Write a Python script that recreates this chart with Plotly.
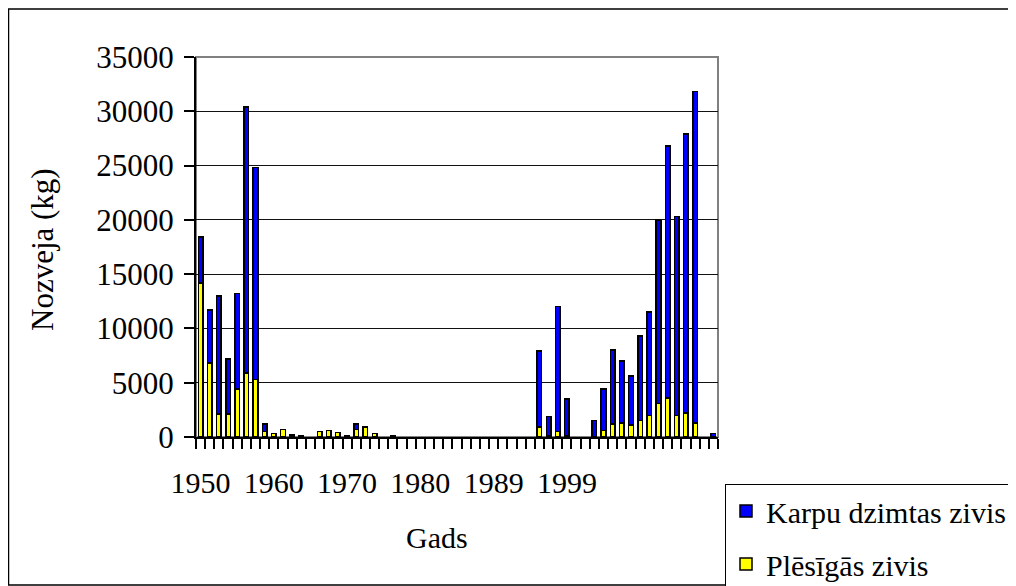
import plotly.graph_objects as go

# category slots along x (57 bars, only some years labelled)
n_cats = 57
label_pos = [0, 8, 16, 24, 32, 40]
label_txt = ["1950", "1960", "1970", "1980", "1989", "1999"]

# Plēsīgās zivis (bottom, yellow) and Karpu dzimtas zivis (top, blue), kg
plesigas = [14200, 6800, 2100, 2100, 4400, 5900, 5300, 500, 300, 700,
            200, 100, None, 500, 600, 400, 100, 700, 900, 300,
            None, 100, None, None, None, None, None, None, None, None,
            None, None, None, None, None, None, None, 900, 100, 500,
            100, None, None, None, 600, 1200, 1300, 1100, 1500, 2000,
            3100, 3600, 2000, 2200, 1300, None, None]
karpu = [4200, 4900, 10900, 5100, 8800, 24500, 19500, 700, None, None,
         None, None, None, None, None, None, None, 500, None, None,
         None, None, None, None, None, None, None, None, None, None,
         None, None, None, None, None, None, None, 7000, 1800, 11500,
         3400, None, None, 1500, 3800, 6800, 5700, 4500, 7800, 9500,
         16900, 23200, 18300, 25700, 30500, None, 300]

OFF = 8  # page body margin
W, H = 1016 - OFF, 586 - OFF
L, R, T, B = 196 - OFF, 718 - OFF, 57 - OFF, 437 - OFF

def px_x(p):
    return (p - OFF - L) / (R - L)

def px_y(p):
    return (B - (p - OFF)) / (B - T)

FONT = "Liberation Serif, Times New Roman, serif"
x = list(range(n_cats))

fig = go.Figure()
fig.add_trace(go.Bar(x=x, y=plesigas, name="Plēsīgās zivis", legendgroup="p", legendrank=2,
                     marker=dict(color="#ffff00", line=dict(color="black", width=1.5))))
fig.add_trace(go.Bar(x=x, y=karpu, name="Karpu dzimtas zivis", legendgroup="k", legendrank=1,
                     marker=dict(color="#0000ff", line=dict(color="black", width=1.5))))

fig.update_layout(
    barmode="stack", bargap=0.5,
    width=W, height=H,
    margin=dict(l=L, r=W - R, t=T, b=H - B, autoexpand=False),
    plot_bgcolor="white", paper_bgcolor="white",
    font=dict(family=FONT, size=30, color="black"),
    legend=dict(x=px_x(725), y=px_y(484), xanchor="left", yanchor="top",
                bordercolor="black", borderwidth=1, bgcolor="white",
                traceorder="grouped", tracegroupgap=11,
                font=dict(size=30)),
    shapes=[
        dict(type="rect", xref="paper", yref="paper", x0=0, x1=1, y0=0, y1=1,
             line=dict(color="#808080", width=2), layer="below"),
        dict(type="rect", xref="paper", yref="paper",
             x0=px_x(8.5), x1=px_x(1015), y0=px_y(585), y1=px_y(9),
             line=dict(color="black", width=1.5), layer="below"),
    ],
    annotations=[
        dict(text="Gads", xref="paper", yref="paper", x=px_x(437), y=px_y(537),
             xanchor="center", yanchor="middle", showarrow=False, font=dict(size=30)),
        dict(text="Nozveja (kg)", xref="paper", yref="paper", x=px_x(42), y=px_y(250),
             xanchor="center", yanchor="middle", showarrow=False, textangle=-90,
             font=dict(size=31)),
    ],
)

fig.update_xaxes(
    range=[-0.5, n_cats - 0.5], tickmode="array", tickvals=label_pos, ticktext=label_txt,
    ticks="", showline=True, linecolor="black", linewidth=2, showgrid=False,
    zeroline=False, ticklabelstandoff=18,
    minor=dict(tickmode="array", tickvals=[i - 0.5 for i in range(n_cats + 1)],
               ticks="outside", ticklen=10, tickcolor="black", tickwidth=1.5, showgrid=False),
)
fig.update_yaxes(
    range=[0, 35000], dtick=5000, tickformat="d", tickfont=dict(size=31),
    ticks="outside", ticklen=10, tickcolor="black", tickwidth=1.5,
    showline=True, linecolor="black", linewidth=2,
    showgrid=True, gridcolor="#111111", gridwidth=1, zeroline=False,
    ticklabelstandoff=4,
)

fig.write_html("out.html")
